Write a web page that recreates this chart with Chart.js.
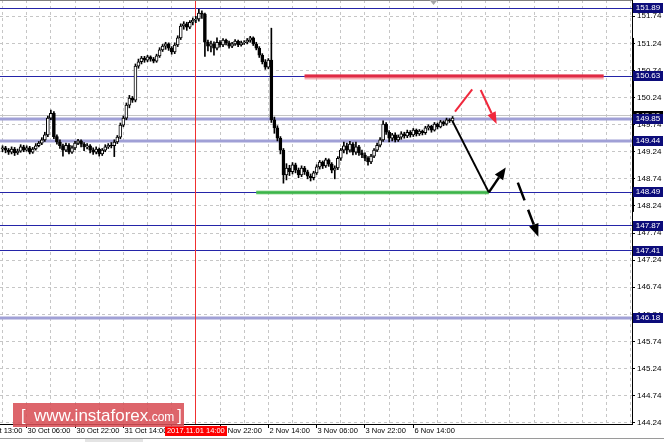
<!DOCTYPE html>
<html><head><meta charset="utf-8">
<script src="https://cdn.jsdelivr.net/npm/chart.js@4.4.0/dist/chart.umd.min.js"></script>
<style>html,body{margin:0;padding:0;background:#fff;overflow:hidden}#wrap{position:relative;width:664px;height:442px}</style>
</head><body><div id="wrap"><canvas id="c" width="664" height="442"></canvas></div>
<script>
// ---- data (H1 bars, index 0 = first visible bar) ----
const opens = [149.29,149.31,149.27,149.23,149.29,149.22,149.25,149.33,149.27,149.31,149.23,149.29,
149.35,149.40,149.46,149.55,149.86,149.95,149.52,149.42,
149.35,149.27,149.36,149.23,149.31,149.40,149.44,149.38,149.33,149.35,149.27,149.23,
149.29,149.20,149.27,149.33,149.36,149.35,149.42,149.51,149.73,149.86,150.10,150.23,
150.19,150.82,150.90,150.97,150.93,150.99,150.95,150.91,
151.01,151.12,151.19,151.23,151.15,151.08,
151.21,151.34,151.56,151.60,151.54,151.63,151.67,151.69,151.80,
151.78,151.26,151.19,151.23,
151.15,151.26,151.21,151.30,151.25,151.19,151.23,151.28,151.21,151.25,
151.26,151.30,151.34,151.23,
151.15,151.02,150.90,150.80,150.93,149.83,149.68,149.49,149.27,148.81,
148.94,148.87,149.00,148.90,148.81,148.94,148.87,148.79,148.76,148.85,148.96,
149.05,148.98,149.09,149.01,148.90,
148.94,149.12,149.27,149.35,149.27,149.38,149.23,149.33,149.22,
149.18,149.12,149.05,149.16,149.27,149.36,149.46,149.75,
149.60,149.49,149.55,149.46,149.51,149.57,
149.53,149.60,149.55,149.64,149.57,149.62,
149.59,149.68,149.71,149.64,149.75,149.70,149.79,149.75,149.83,149.81];
const highs = [149.35,149.34,149.30,149.33,149.32,149.29,149.37,149.36,149.35,149.34,149.32,149.39,
149.43,149.50,149.60,149.90,150.01,149.98,149.55,149.46,
149.38,149.40,149.39,149.35,149.43,149.47,149.46,149.41,149.39,149.37,149.31,149.33,
149.31,149.30,149.37,149.39,149.41,149.46,149.54,149.77,149.90,150.14,150.28,150.26,
150.86,150.95,151.00,151.00,151.02,151.01,150.98,151.04,
151.16,151.22,151.26,151.25,151.18,151.25,
151.38,151.60,151.64,151.63,151.66,151.71,151.74,151.87,151.84,
151.80,151.30,151.28,151.27,
151.34,151.29,151.33,151.32,151.28,151.26,151.31,151.30,151.28,151.29,
151.33,151.37,151.36,151.26,
151.18,151.05,150.94,150.96,151.52,149.88,149.72,149.52,149.30,149.02,
148.99,149.04,149.03,148.94,148.98,148.97,148.90,148.83,148.88,149.00,149.08,
149.07,149.12,149.11,149.04,148.98,
149.15,149.30,149.42,149.40,149.43,149.41,149.42,149.36,149.27,
149.22,149.15,149.19,149.30,149.40,149.50,149.81,149.78,
149.63,149.58,149.59,149.55,149.61,149.60,
149.64,149.63,149.67,149.66,149.65,149.64,
149.71,149.74,149.73,149.78,149.77,149.82,149.81,149.86,149.85,149.89];
const lows = [149.24,149.22,149.19,149.20,149.17,149.19,149.23,149.24,149.25,149.20,149.21,149.27,
149.33,149.37,149.43,149.52,149.83,149.48,149.38,149.30,
149.16,149.24,149.20,149.21,149.28,149.37,149.33,149.26,149.29,149.22,149.19,149.20,
149.16,149.17,149.24,149.30,149.31,149.15,149.39,149.48,149.70,149.83,150.05,150.15,
150.16,150.78,150.86,150.89,150.90,150.91,150.88,150.89,
150.98,151.09,151.13,151.11,151.04,151.05,
151.18,151.31,151.50,151.48,151.51,151.58,151.62,151.65,151.70,
151.00,151.10,151.08,151.02,
151.12,151.17,151.18,151.21,151.15,151.16,151.20,151.18,151.19,151.22,
151.23,151.26,151.20,151.12,
150.98,150.86,150.76,150.77,149.78,149.58,149.44,149.20,148.66,148.72,
148.80,148.83,148.85,148.76,148.78,148.82,148.74,148.70,148.72,148.82,148.92,
148.93,148.95,148.97,148.85,148.74,
148.91,149.08,149.22,149.20,149.23,149.18,149.19,149.17,149.13,
149.07,148.99,149.02,149.13,149.24,149.33,149.43,149.56,
149.42,149.44,149.42,149.43,149.47,149.49,
149.50,149.51,149.52,149.53,149.54,149.55,
149.56,149.64,149.60,149.62,149.66,149.68,149.72,149.73,149.78,149.79];
const closes = [149.31,149.27,149.23,149.29,149.22,149.25,149.33,149.27,149.31,149.23,149.29,149.35,
149.40,149.46,149.55,149.86,149.95,149.52,149.42,149.35,
149.27,149.36,149.23,149.31,149.40,149.44,149.38,149.33,149.35,149.27,149.23,149.29,
149.20,149.27,149.33,149.36,149.35,149.42,149.51,149.73,149.86,150.10,150.23,150.19,
150.82,150.90,150.97,150.93,150.99,150.95,150.91,151.01,
151.12,151.19,151.23,151.15,151.08,151.21,
151.34,151.56,151.60,151.54,151.63,151.67,151.69,151.80,151.78,
151.26,151.19,151.23,151.15,
151.26,151.21,151.30,151.25,151.19,151.23,151.28,151.21,151.25,151.26,
151.30,151.34,151.23,151.15,
151.02,150.90,150.80,150.93,149.83,149.68,149.49,149.27,148.81,148.94,
148.87,149.00,148.90,148.81,148.94,148.87,148.79,148.76,148.85,148.96,149.05,
148.98,149.09,149.01,148.90,148.94,
149.12,149.27,149.35,149.27,149.38,149.23,149.33,149.22,149.18,
149.12,149.05,149.16,149.27,149.36,149.46,149.75,149.60,
149.49,149.55,149.46,149.51,149.57,149.53,
149.60,149.55,149.64,149.57,149.62,149.59,
149.68,149.71,149.64,149.75,149.70,149.79,149.75,149.83,149.81,149.86];

const yTickValues = [151.74,151.24,150.74,150.24,149.74,149.24,148.74,148.24,147.74,147.24,146.74,146.24,145.74,145.24,144.74,144.24];
const xGridBars = [0,8,16,24,32,40,48,56,64,72,80,88,96,104,112,120,128,136,144,152,160,168,176,184,192,200,208];
const xLabelBars = [-8,8,24,40,56,72,88,104,120,136];
const xLabelTexts = ['27 Oct 13:00','30 Oct 06:00','30 Oct 22:00','31 Oct 14:00','1 Nov 06:00','1 Nov 22:00','2 Nov 14:00','3 Nov 06:00','3 Nov 22:00','6 Nov 14:00'];
const markerBar = 64;
const markerText = '2017.11.01 14:00';
const majorLevels = [151.89,150.63,148.49,147.87,147.41];
const minorLevels = [149.85,149.44,146.18];
const bidPrice = 149.90;
const bidLabel = '149.90';
const resistanceSeg = [[100,150.63],[199,150.63]];
const supportSeg = [[84,148.49],[161,148.49]];
const trendDown = [[149,149.80],[161,148.49]];
const upArrow = [[161,148.49],[166.6,148.95]];
const redUp = [[149.8,149.98],[155.5,150.39]];
const redArrow = [[158.3,150.38],[163.6,149.75]];
const dashArrow = [[170.6,148.67],[177.4,147.67]];
const rangeBar = [151.34,148.13];
const shiftMarkerBar = 142.7;

// ---- drawing ----
const FONT = '"Liberation Sans", Arial, sans-serif';
const idx = closes.map((_, i) => i);
const wickData = idx.map(i => ({x: i, y: [lows[i], highs[i]]}));
const bodyData = idx.map(i => ({x: i, y: [Math.min(opens[i], closes[i]), Math.max(opens[i], closes[i])]}));

function hline(ctx, yy, x1, x2) { ctx.beginPath(); ctx.moveTo(x1, yy); ctx.lineTo(x2, yy); ctx.stroke(); }
function crisp(v) { return Math.round(v - 0.5) + 0.5; }
function arrow(ctx, x1, y1, x2, y2, color, width, dash, hl, hw) {
  const ang = Math.atan2(y2 - y1, x2 - x1);
  const bx = x2 - hl * Math.cos(ang), by = y2 - hl * Math.sin(ang);
  ctx.strokeStyle = color; ctx.fillStyle = color; ctx.lineWidth = width;
  ctx.setLineDash(dash || []);
  ctx.beginPath(); ctx.moveTo(x1, y1); ctx.lineTo(bx, by); ctx.stroke();
  ctx.setLineDash([]);
  ctx.beginPath(); ctx.moveTo(x2, y2);
  ctx.lineTo(bx + hw / 2 * Math.sin(ang), by - hw / 2 * Math.cos(ang));
  ctx.lineTo(bx - hw / 2 * Math.sin(ang), by + hw / 2 * Math.cos(ang));
  ctx.closePath(); ctx.fill();
}
function P(sc, pt) { return [sc.x.getPixelForValue(pt[0]), sc.y.getPixelForValue(pt[1])]; }

const overlay = {
  id: 'overlay',
  beforeDatasetsDraw(chart) {
    const {ctx, chartArea: a, scales} = chart;
    const {x, y} = scales;
    ctx.save();
    ctx.beginPath(); ctx.rect(a.left, a.top, a.right - a.left, a.bottom - a.top); ctx.clip();
    ctx.strokeStyle = '#c4c4c4'; ctx.lineWidth = 1;
    hline(ctx, crisp(y.getPixelForValue(bidPrice)), a.left, a.right);
    ctx.strokeStyle = '#a0a0d6'; ctx.lineWidth = 3;
    minorLevels.forEach(v => hline(ctx, Math.round(y.getPixelForValue(v)), a.left, a.right));
    ctx.strokeStyle = '#2424a8'; ctx.lineWidth = 1;
    majorLevels.forEach(v => hline(ctx, crisp(y.getPixelForValue(v)), a.left, a.right));
    ctx.strokeStyle = '#f03030'; ctx.lineWidth = 1;
    const mx = crisp(x.getPixelForValue(markerBar));
    ctx.beginPath(); ctx.moveTo(mx, a.top); ctx.lineTo(mx, a.bottom); ctx.stroke();
    ctx.restore();
  },
  afterDatasetsDraw(chart) {
    const {ctx, chartArea: a, scales} = chart;
    ctx.save();
    ctx.beginPath(); ctx.rect(a.left, a.top, a.right - a.left, a.bottom - a.top); ctx.clip();
    ctx.lineCap = 'butt';
    let p1 = P(scales, resistanceSeg[0]), p2 = P(scales, resistanceSeg[1]);
    ctx.strokeStyle = 'rgba(240,120,130,0.6)'; ctx.lineWidth = 5; hline(ctx, p1[1] + 0.5, p1[0], p2[0]);
    ctx.strokeStyle = '#e02a45'; ctx.lineWidth = 3; hline(ctx, p1[1] - 0.5, p1[0], p2[0]);
    p1 = P(scales, supportSeg[0]); p2 = P(scales, supportSeg[1]);
    ctx.strokeStyle = 'rgba(110,200,110,0.6)'; ctx.lineWidth = 4; hline(ctx, p1[1], p1[0], p2[0]);
    ctx.strokeStyle = '#3cb44a'; ctx.lineWidth = 2.5; hline(ctx, p1[1], p1[0], p2[0]);
    let q1 = P(scales, trendDown[0]), q2 = P(scales, trendDown[1]);
    ctx.strokeStyle = '#000'; ctx.lineWidth = 2;
    ctx.beginPath(); ctx.moveTo(q1[0], q1[1]); ctx.lineTo(q2[0], q2[1]); ctx.stroke();
    q1 = P(scales, upArrow[0]); q2 = P(scales, upArrow[1]);
    arrow(ctx, q1[0], q1[1], q2[0], q2[1], '#000', 2.5, null, 12, 10);
    q1 = P(scales, redUp[0]); q2 = P(scales, redUp[1]);
    ctx.strokeStyle = '#f0283c'; ctx.lineWidth = 2;
    ctx.beginPath(); ctx.moveTo(q1[0], q1[1]); ctx.lineTo(q2[0], q2[1]); ctx.stroke();
    q1 = P(scales, redArrow[0]); q2 = P(scales, redArrow[1]);
    arrow(ctx, q1[0], q1[1], q2[0], q2[1], '#f0283c', 2, null, 12, 9);
    q1 = P(scales, dashArrow[0]); q2 = P(scales, dashArrow[1]);
    arrow(ctx, q1[0], q1[1], q2[0], q2[1], '#000', 2.5, [19, 10], 13, 10);
    ctx.restore();
  },
  afterDraw(chart) {
    const {ctx, chartArea: a, scales} = chart;
    const {x, y} = scales;
    ctx.save();
    ctx.strokeStyle = '#808080'; ctx.lineWidth = 1; hline(ctx, 0.5, 0, a.right);
    const sx = x.getPixelForValue(shiftMarkerBar);
    ctx.fillStyle = '#a8a8a8';
    ctx.beginPath(); ctx.moveTo(sx - 4, 0); ctx.lineTo(sx + 4, 0); ctx.lineTo(sx, 5); ctx.closePath(); ctx.fill();
    ctx.font = '7.5px ' + FONT; ctx.fillStyle = '#000'; ctx.textBaseline = 'middle'; ctx.textAlign = 'left';
    ctx.strokeStyle = '#000'; ctx.lineWidth = 1;
    xLabelBars.forEach((b, i) => {
      const lx = crisp(x.getPixelForValue(b));
      ctx.beginPath(); ctx.moveTo(lx, a.bottom); ctx.lineTo(lx, a.bottom + 4); ctx.stroke();
      ctx.fillText(xLabelTexts[i], lx + 1, a.bottom + 7);
    });
    const mx = x.getPixelForValue(markerBar);
    const tw = ctx.measureText(markerText).width;
    ctx.fillStyle = '#ff0000';
    ctx.fillRect(Math.round(mx - tw / 2 - 2), a.bottom + 2, Math.round(tw + 4), 10);
    ctx.fillStyle = '#fff'; ctx.textAlign = 'center';
    ctx.fillText(markerText, mx, a.bottom + 7);
    ctx.fillStyle = '#000';
    const r1 = y.getPixelForValue(rangeBar[0]), r2 = y.getPixelForValue(rangeBar[1]);
    ctx.fillRect(a.right, r1, 2, r2 - r1);
    ctx.font = '8px ' + FONT; ctx.textAlign = 'center'; ctx.textBaseline = 'middle';
    const box = (v, txt, bg) => {
      const yy = Math.round(y.getPixelForValue(v));
      ctx.fillStyle = bg; ctx.fillRect(a.right + 1, yy - 5, 30, 10);
      ctx.fillStyle = '#fff'; ctx.fillText(txt, a.right + 16, yy);
    };
    box(bidPrice, bidLabel, '#000');
    majorLevels.concat(minorLevels).forEach(v => box(v, v.toFixed(2), '#0c0c7a'));
    ctx.strokeStyle = '#9a9a9a'; hline(ctx, 438.5, 0, 664);
    ctx.fillStyle = '#e4e4e4'; ctx.fillRect(85, 439, 58, 3);
    ctx.fillStyle = 'rgba(216,80,86,0.88)';
    ctx.fillRect(13, 403, 171, 24);
    ctx.fillStyle = '#fff'; ctx.textAlign = 'left'; ctx.textBaseline = 'alphabetic';
    ctx.font = '16px ' + FONT;
    ctx.fillText('[', 21, 421);
    ctx.font = '17px ' + FONT;
    ctx.fillText('www.instaforex', 34, 421);
    let wx = 34 + ctx.measureText('www.instaforex').width;
    ctx.font = '12px ' + FONT;
    ctx.fillText('.com', wx, 421);
    wx += ctx.measureText('.com').width + 3;
    ctx.font = '16px ' + FONT;
    ctx.fillText(']', wx, 421);
    ctx.restore();
  }
};

new Chart(document.getElementById('c'), {
  type: 'bar',
  data: {
    datasets: [
      {data: bodyData, barThickness: 3, grouped: false, borderWidth: 1, borderColor: '#000', borderSkipped: false,
       backgroundColor: idx.map(i => closes[i] >= opens[i] ? '#ffffff' : '#000000')},
      {data: wickData, barThickness: 1, grouped: false, borderWidth: 0, backgroundColor: '#000'}
    ]
  },
  options: {
    responsive: false, animation: false, devicePixelRatio: 1,
    layout: {padding: 0},
    plugins: {legend: {display: false}, tooltip: {enabled: false}},
    scales: {
      x: {type: 'linear', min: -0.84, max: 208.4, offset: false,
          grid: {offset: false, color: '#c6c6c6', drawTicks: false},
          border: {display: true, color: '#000', dash: [3, 3]},
          ticks: {display: false},
          afterBuildTicks: s => { s.ticks = xGridBars.map(v => ({value: v})); },
          afterFit: s => { s.height = 18; s.paddingLeft = 0; s.paddingRight = 0; }},
      y: {type: 'linear', position: 'right', min: 144.216, max: 152.04, beginAtZero: false,
          grid: {color: '#c6c6c6', tickColor: '#000', tickLength: 3},
          border: {display: true, color: '#000', dash: [3, 3]},
          ticks: {autoSkip: false, padding: 2, color: '#000', font: {family: FONT, size: 8}, callback: v => Number(v).toFixed(2)},
          afterBuildTicks: s => { s.ticks = yTickValues.map(v => ({value: v})); },
          afterFit: s => { s.width = 32; s.paddingTop = 0; s.paddingBottom = 0; }}
    }
  },
  plugins: [overlay]
});
</script></body></html>
